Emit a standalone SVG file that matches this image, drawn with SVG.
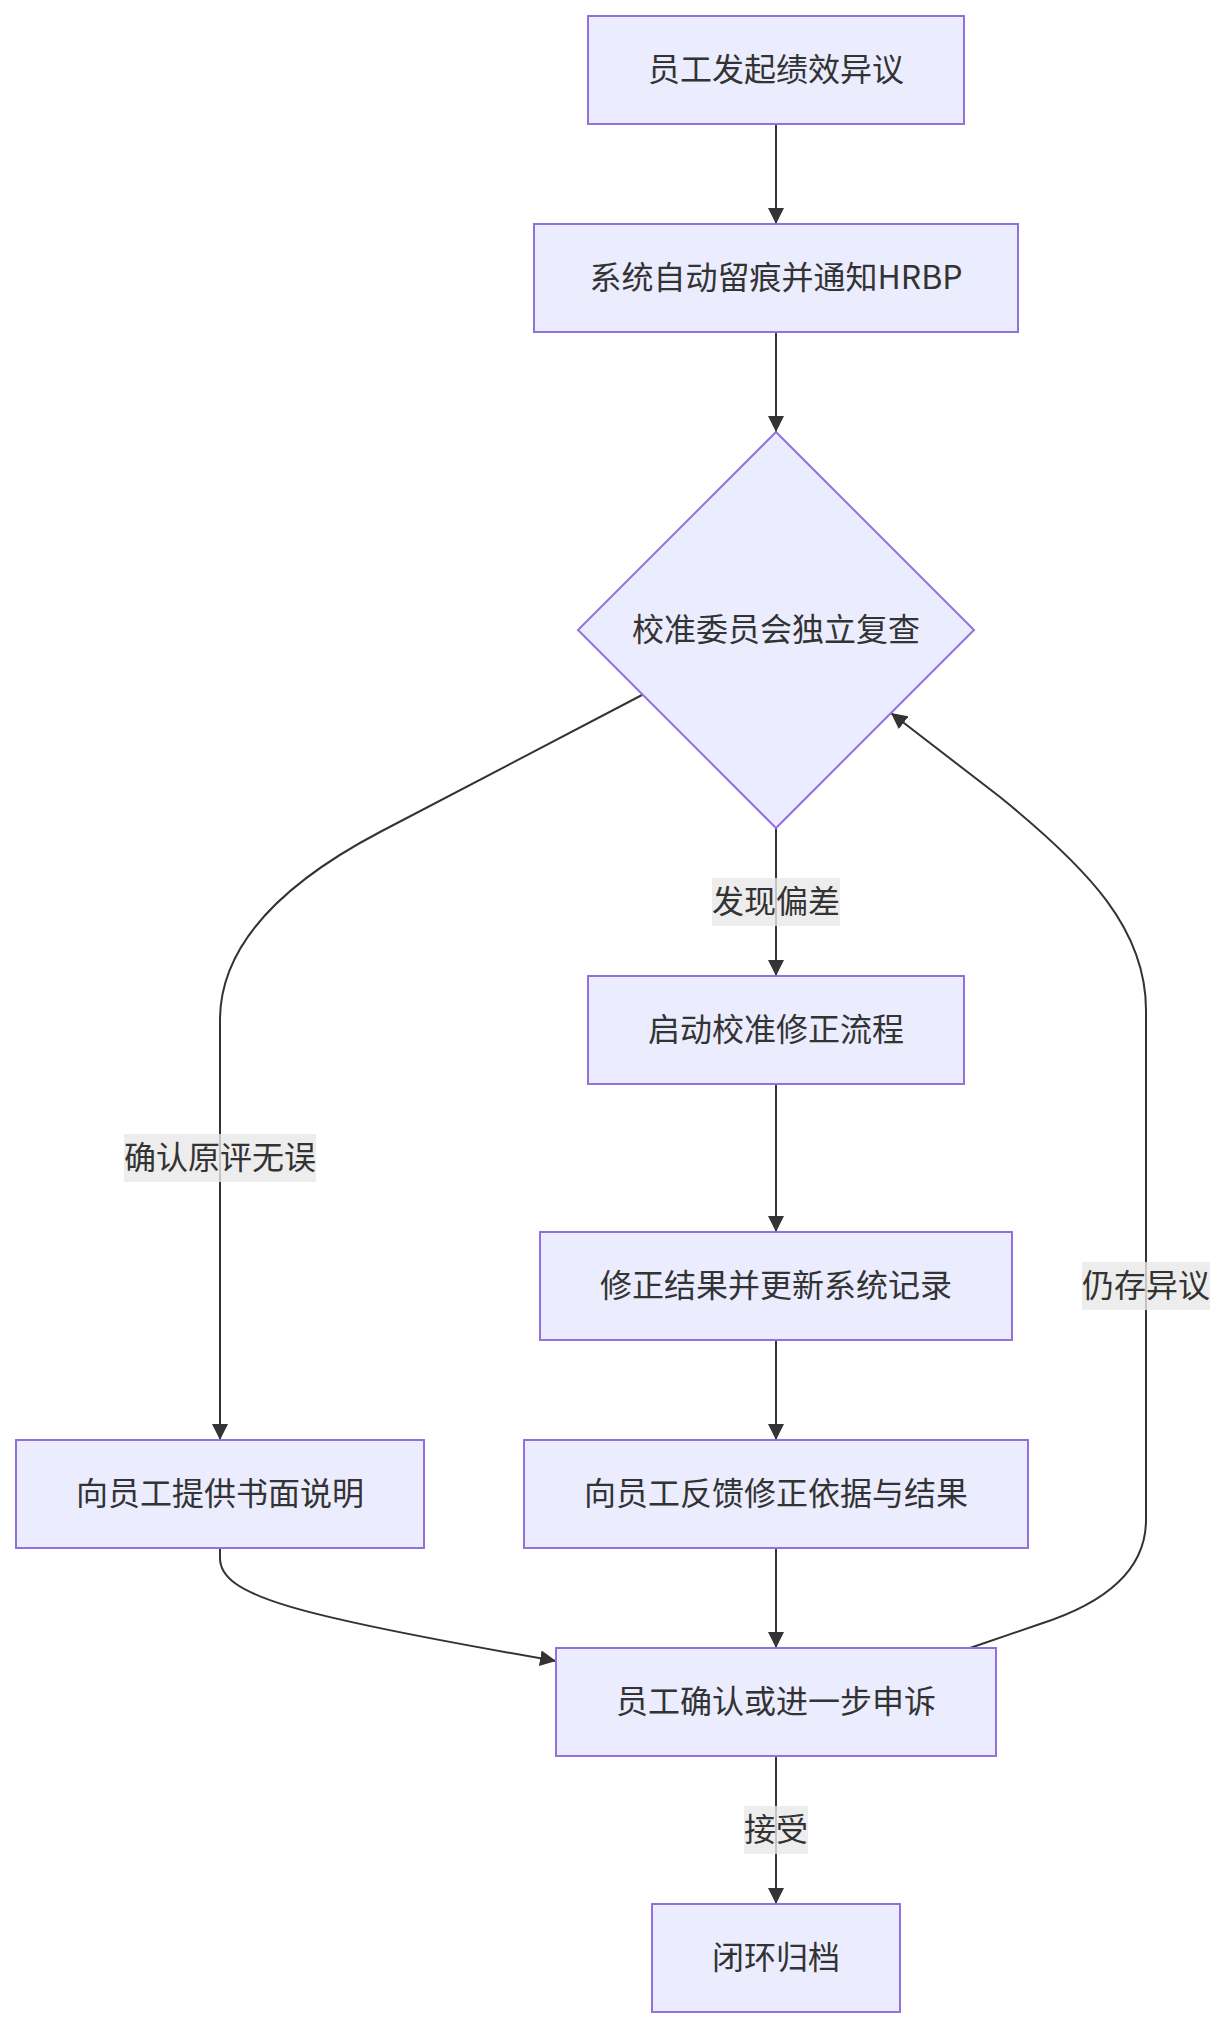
<svg xmlns="http://www.w3.org/2000/svg" width="1226" height="2028" viewBox="0 0 1226 2028">
<style>
.node rect,.node polygon{fill:#ECECFF;stroke:#9370DB;stroke-width:2}
.node text,.elabel text{font-family:"Noto Sans CJK SC","Noto Sans",sans-serif;font-size:32px;fill:#333333;text-anchor:middle}
.edges path{fill:none;stroke:#333333;stroke-width:2}
.elabel rect{fill:#e8e8e8;fill-opacity:0.8}
</style>
<defs>
<marker id="arrow" markerUnits="userSpaceOnUse" markerWidth="16" markerHeight="16" refX="16" refY="8" orient="auto">
<path d="M0,0 L16,8 L0,16 z" fill="#333333"/>
</marker>
</defs>
<rect width="1226" height="2028" fill="#ffffff"/>
<g id="connectors" class="edges">
<path d="M776,124 L776,224" marker-end="url(#arrow)"/>
<path d="M776,332 L776,432" marker-end="url(#arrow)"/>
<path d="M776,828 L776,976" marker-end="url(#arrow)"/>
<path d="M776,1084 L776,1232" marker-end="url(#arrow)"/>
<path d="M776,1340 L776,1440" marker-end="url(#arrow)"/>
<path d="M776,1548 L776,1648" marker-end="url(#arrow)"/>
<path d="M776,1756 L776,1904" marker-end="url(#arrow)"/>
<path d="M642,695 L380,832 Q220,916 220,1020 L220,1440" marker-end="url(#arrow)"/>
<path d="M220,1548 L220,1558 C220,1595 290,1615 556,1661" marker-end="url(#arrow)"/>
<path d="M970,1648 L1040,1624 Q1146,1590 1146,1520 L1146,1010 C1146,930 1090,870 1000,797 L891,713" marker-end="url(#arrow)"/>
</g>
<g id="edge-labels">
<g class="elabel" id="label-faxian"><rect x="712" y="878" width="128" height="48"/><text x="776" y="913">发现偏差</text></g>
<g class="elabel" id="label-queren"><rect x="124" y="1134" width="192" height="48"/><text x="220" y="1169">确认原评无误</text></g>
<g class="elabel" id="label-reng"><rect x="1082" y="1262" width="128" height="48"/><text x="1146" y="1297">仍存异议</text></g>
<g class="elabel" id="label-jieshou"><rect x="744" y="1806" width="64" height="48"/><text x="776" y="1841">接受</text></g>
</g>
<g id="nodeA" class="node"><rect x="588" y="16" width="376" height="108"/><text x="776" y="81">员工发起绩效异议</text></g>
<g id="nodeB" class="node"><rect x="534" y="224" width="484" height="108"/><text x="776" y="289">系统自动留痕并通知HRBP</text></g>
<g id="nodeC" class="node"><polygon points="776,432 974,630 776,828 578,630"/><text x="776" y="641">校准委员会独立复查</text></g>
<g id="nodeD" class="node"><rect x="588" y="976" width="376" height="108"/><text x="776" y="1041">启动校准修正流程</text></g>
<g id="nodeE" class="node"><rect x="540" y="1232" width="472" height="108"/><text x="776" y="1297">修正结果并更新系统记录</text></g>
<g id="nodeF" class="node"><rect x="524" y="1440" width="504" height="108"/><text x="776" y="1505">向员工反馈修正依据与结果</text></g>
<g id="nodeG" class="node"><rect x="16" y="1440" width="408" height="108"/><text x="220" y="1505">向员工提供书面说明</text></g>
<g id="nodeH" class="node"><rect x="556" y="1648" width="440" height="108"/><text x="776" y="1713">员工确认或进一步申诉</text></g>
<g id="nodeI" class="node"><rect x="652" y="1904" width="248" height="108"/><text x="776" y="1969">闭环归档</text></g>
</svg>
